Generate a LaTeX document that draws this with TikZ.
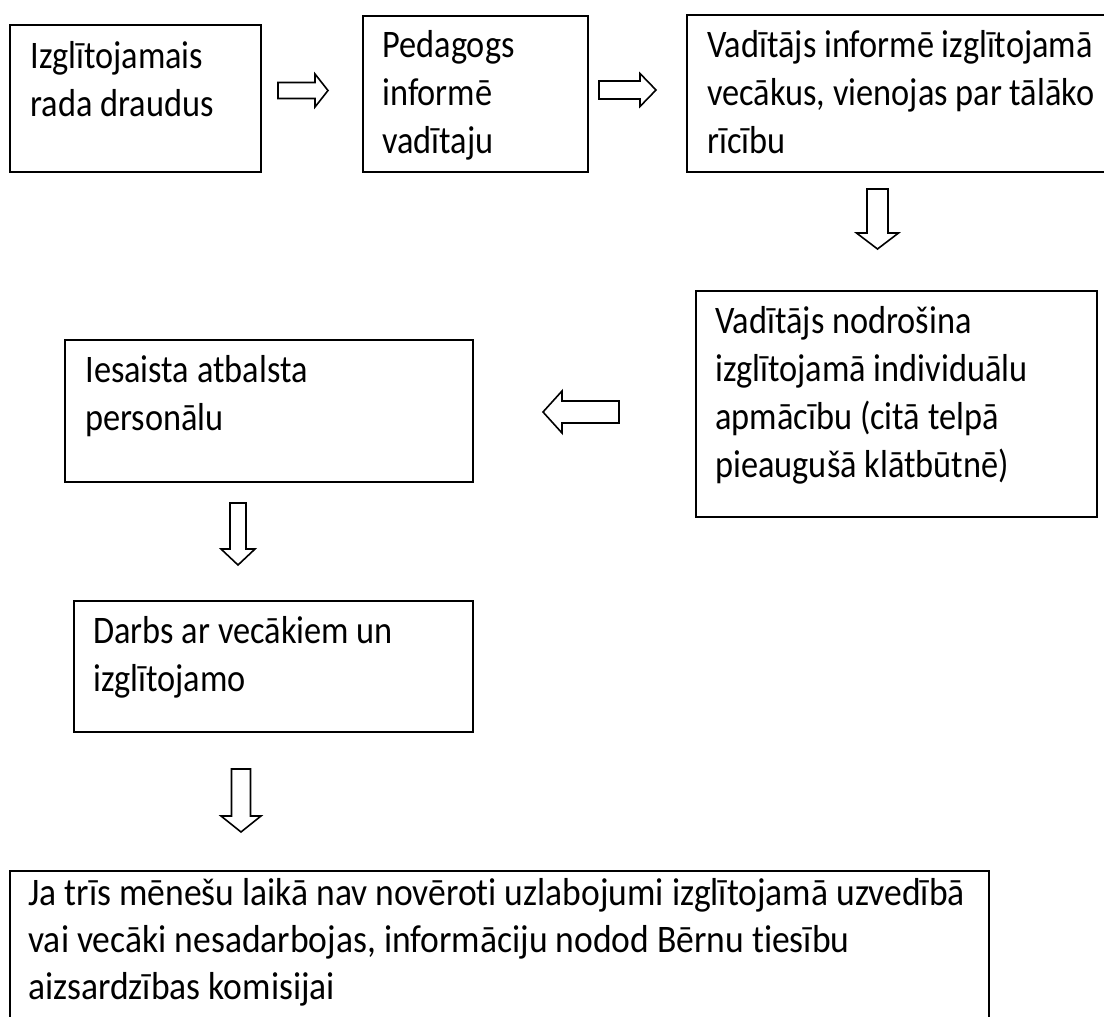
\documentclass[tikz,border=0pt]{standalone}
\usepackage{fontspec}
\setmainfont{Carlito}[FakeStretch=0.88,Ligatures=NoCommon]
\newfontfamily\widefont{Carlito}[FakeStretch=0.912,Ligatures=NoCommon]
\newcommand\harrow[7]{% name, tail x, head-back x, tip x, center y, shaft half, head half
  \coordinate (#1s) at (#2,#5);
  \coordinate (#1e) at (#4,#5);
  \draw[blk] (#2,#5-#6) -- (#3,#5-#6) -- (#3,#5-#7) -- (#1e) -- (#3,#5+#7) -- (#3,#5+#6) -- (#2,#5+#6) -- cycle;}
\newcommand\varrow[7]{% name, tail y, head-back y, tip y, center x, shaft half, head half
  \coordinate (#1s) at (#5,#2);
  \coordinate (#1e) at (#5,#4);
  \draw[blk] (#5-#6,#2) -- (#5-#6,#3) -- (#5-#7,#3) -- (#1e) -- (#5+#7,#3) -- (#5+#6,#3) -- (#5+#6,#2) -- cycle;}
\begin{document}
\begin{tikzpicture}[x=0.5pt,y=-0.5pt,
  box/.style={draw, line width=1pt, inner sep=0pt, anchor=north west},
  txt/.style={anchor=north west, inner sep=0pt, align=left,
    font=\fontsize{19.5pt}{24pt}\selectfont},
  blk/.style={draw, line width=0.8pt, line join=miter, fill=white}]
\useasboundingbox (0,0) rectangle (1104,1017);
\clip (0,0) rectangle (1104,1017);
% boxes
\node[box, minimum width=125.5pt, minimum height=73.5pt] (b1) at (9,24) {};
\node[box, minimum width=112.5pt, minimum height=78pt] (b2) at (362,15) {};
\node[box, minimum width=212pt, minimum height=78.5pt] (b3) at (686,14) {};
\node[box, minimum width=200.5pt, minimum height=113pt] (b4) at (695,290) {};
\node[box, minimum width=204pt, minimum height=71pt] (b5) at (64,339) {};
\node[box, minimum width=199.5pt, minimum height=65.5pt] (b6) at (73,600) {};
\node[box, minimum width=489.5pt, minimum height=80pt] (b7) at (9,870) {};
% texts (first baseline = y + 32)
\node[txt] (t1) at (30,36) {\rule{0pt}{16pt}Izglītojamais\\rada draudus};
\node[txt] (t2) at (382,25) {\rule{0pt}{16pt}Pedagogs\\informē\\vadītaju};
\node[txt] (t3) at (707,25) {\rule{0pt}{16pt}Vadītājs informē izglītojamā\\vecākus, vienojas par tālāko\\rīcību};
\node[txt] (t4) at (715,301) {\rule{0pt}{16pt}Vadītājs nodrošina\\izglītojamā individuālu\\apmācību (citā telpā\\pieaugušā klātbūtnē)};
\node[txt] (t5) at (85,350) {\rule{0pt}{16pt}Iesaista atbalsta\\personālu};
\node[txt] (t6) at (93,611) {\rule{0pt}{16pt}Darbs ar vecākiem un\\izglītojamo};
\node[txt, font=\widefont\fontsize{19.5pt}{23.5pt}\selectfont] (t7) at (28,873) {\rule{0pt}{16pt}Ja trīs mēnešu laikā nav novēroti uzlabojumi izglītojamā uzvedībā\\vai vecāki nesadarbojas, informāciju nodod Bērnu tiesību\\aizsardzības komisijai};
% block arrows
\harrow{a1}{278}{315}{328}{90.5}{8}{16.5}
\harrow{a2}{599}{640}{656}{90}{9}{16.5}
\varrow{a3}{189}{233}{249}{877.5}{10.5}{21}
\harrow{a4}{619}{562}{543}{412}{11}{21}
\varrow{a5}{503}{549}{565}{238}{8}{17}
\varrow{a6}{769}{816}{832}{241}{9.5}{20}
\end{tikzpicture}
\end{document}
